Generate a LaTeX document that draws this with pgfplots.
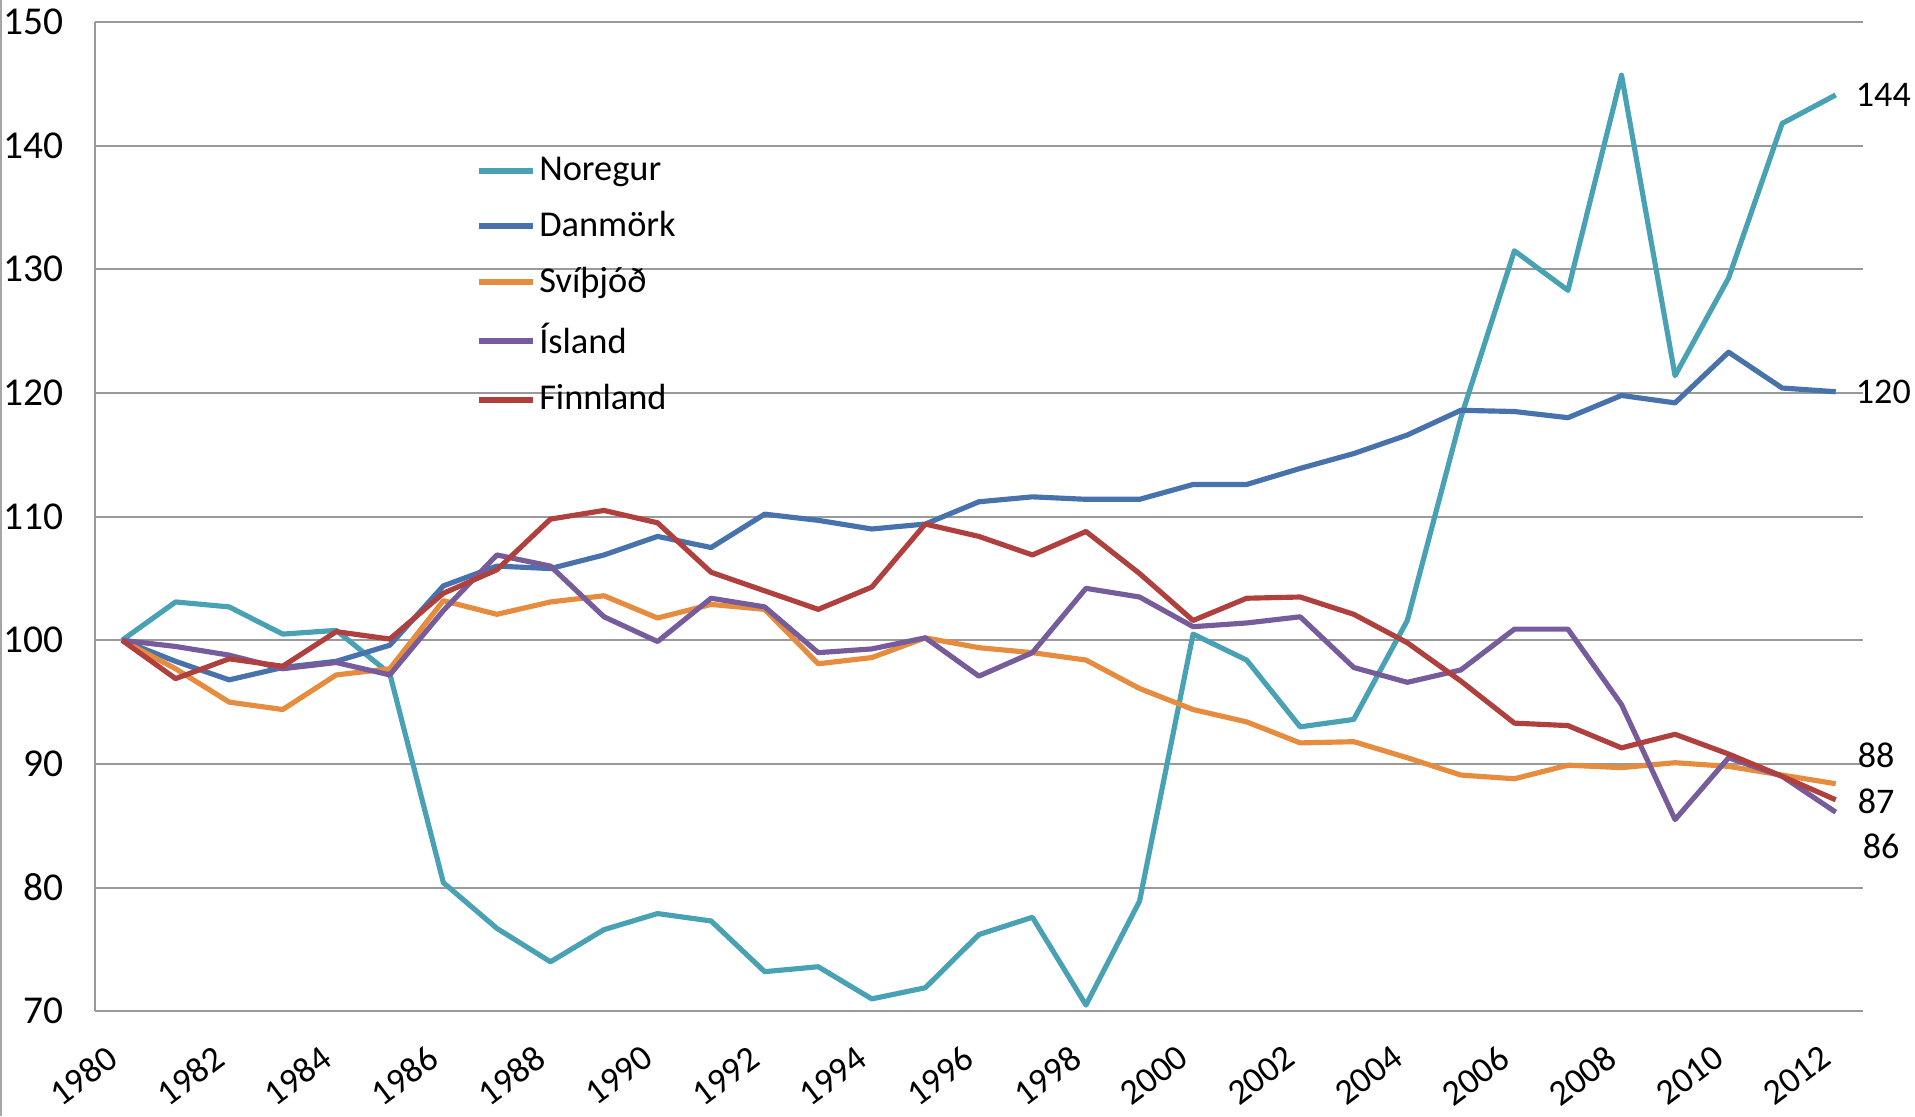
\documentclass[border=0pt]{standalone}
\usepackage{fontspec}
\setmainfont{Carlito}
\usepackage{pgfplots}
\usepackage{pgfplotstable}
\pgfplotsset{compat=1.18}

\definecolor{noregur}{RGB}{72,162,180}
\definecolor{danmork}{RGB}{72,114,172}
\definecolor{svithjod}{RGB}{230,140,62}
\definecolor{island}{RGB}{118,92,155}
\definecolor{finnland}{RGB}{176,64,62}

% index 1980 = 100
\pgfplotstableread{
year N D S I F
1980 100.0 100.0 100.0 100.0 100.0
1981 103.1 98.3 97.7 99.5 96.9
1982 102.7 96.8 95.0 98.8 98.5
1983 100.5 97.8 94.4 97.7 97.9
1984 100.8 98.3 97.2 98.2 100.7
1985 97.3 99.6 97.7 97.2 100.1
1986 80.4 104.4 103.2 102.4 103.8
1987 76.7 106.0 102.1 106.9 105.7
1988 74.0 105.8 103.1 106.0 109.8
1989 76.6 106.9 103.6 101.9 110.5
1990 77.9 108.4 101.8 99.9 109.5
1991 77.3 107.5 102.9 103.4 105.5
1992 73.2 110.2 102.5 102.7 104.0
1993 73.6 109.7 98.1 99.0 102.5
1994 71.0 109.0 98.6 99.3 104.3
1995 71.9 109.4 100.2 100.2 109.4
1996 76.2 111.2 99.4 97.1 108.4
1997 77.6 111.6 99.0 99.0 106.9
1998 70.5 111.4 98.4 104.2 108.8
1999 78.9 111.4 96.1 103.5 105.4
2000 100.5 112.6 94.4 101.1 101.6
2001 98.4 112.6 93.4 101.4 103.4
2002 93.0 113.9 91.7 101.9 103.5
2003 93.6 115.1 91.8 97.8 102.1
2004 101.6 116.6 90.5 96.6 99.8
2005 118.0 118.6 89.1 97.6 96.7
2006 131.5 118.5 88.8 100.9 93.3
2007 128.3 118.0 89.9 100.9 93.1
2008 145.7 119.8 89.7 94.8 91.3
2009 121.4 119.2 90.1 85.5 92.4
2010 129.3 123.3 89.8 90.5 90.8
2011 141.8 120.4 89.1 89.0 89.0
2012 144.1 120.1 88.4 86.1 87.1
}\data

\begin{document}
\begin{tikzpicture}[font=\fontsize{10.5}{12}\selectfont]
\path[use as bounding box] (-0.975cm,-1.075cm) rectangle (18.625cm,10.35cm);
\draw[gray!70, line width=0.6pt] (-0.96cm,-1.075cm) -- (-0.96cm,10.35cm);
\begin{axis}[
  at={(0,0)}, anchor=south west,
  scale only axis,
  width=18.0875cm, height=10.125cm,
  xmin=1979.5, xmax=2012.5,
  ymin=70, ymax=150,
  xtick={1980,1982,...,2012},
  ytick={70,80,...,150},
  yticklabel style={font=\fontsize{11.5}{13}\selectfont, xshift=-0.2cm},
  xticklabel style={font=\fontsize{10.5}{12}\selectfont,
    xshift=0cm, yshift=-0.36cm, rotate=37, anchor=east},
  /pgf/number format/assume math mode=true,
  /pgf/number format/1000 sep={},
  major tick length=0pt,
  axis x line*=bottom, axis y line*=left,
  axis line style={gray!80, line width=0.6pt},
  ymajorgrids,
  grid style={gray!80, line width=0.6pt},
  clip=false,
  legend cell align=left,
  legend style={draw=none, fill=none, at={(0.215,0.868)}, anchor=north west,
    row sep=5.5pt, inner sep=0pt,
    nodes={inner sep=1pt, font=\fontsize{10.6}{12}\selectfont}},
  legend image code/.code={\draw[line width=1.8pt] (0cm,0cm) -- (0.55cm,0cm);},
  every axis plot/.append style={line width=1.5pt, line join=round},
]
\addplot[noregur] table[x=year, y=N] {\data};
\addlegendentry{Noregur}
\addplot[danmork] table[x=year, y=D] {\data};
\addlegendentry{Danmörk}
\addplot[svithjod] table[x=year, y=S] {\data};
\addlegendentry{Svíþjóð}
\addplot[island] table[x=year, y=I] {\data};
\addlegendentry{Ísland}
\addplot[finnland] table[x=year, y=F] {\data};
\addlegendentry{Finnland}

\node[anchor=west, inner sep=0pt, xshift=0.2cm] at (axis cs:2012,144.1) {144};
\node[anchor=west, inner sep=0pt, xshift=0.2cm] at (axis cs:2012,120.1) {120};
\node[anchor=west, inner sep=0pt, xshift=0.22cm] at (axis cs:2012,90.7) {88};
\node[anchor=west, inner sep=0pt, xshift=0.22cm] at (axis cs:2012,87.0) {87};
\node[anchor=west, inner sep=0pt, xshift=0.27cm] at (axis cs:2012,83.3) {86};
\end{axis}
\end{tikzpicture}
\end{document}
